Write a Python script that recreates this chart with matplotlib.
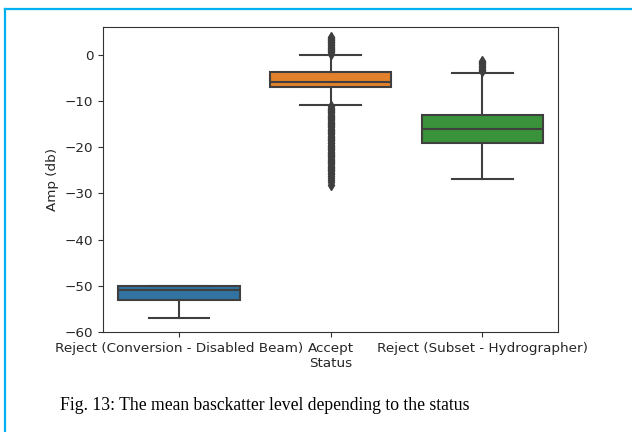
import matplotlib
matplotlib.use('Agg')
from matplotlib import pyplot as plt
from matplotlib.lines import Line2D

# box statistics (Amp in db)
categories = ['Reject (Conversion - Disabled Beam)', 'Accept', 'Reject (Subset - Hydrographer)']
q1 = [-53.0, -7.0, -19.2]
med = [-50.9, -5.9, -16.0]
q3 = [-50.0, -3.8, -13.0]
whislo = [-57.0, -10.9, -27.0]
whishi = [-50.0, 0.0, -3.9]
fliers_conv = []
fliers_accept = [0.2, 0.5, 0.7, 1.0, 1.2, 1.5, 1.7, 2.0, 2.2, 2.5, 2.7, 3.0, 3.2,
                 3.5, 3.7, 3.9,
                 -11.2, -11.5, -11.7, -12.0, -12.2, -12.5, -12.7, -13.0, -13.2,
                 -13.5, -13.7, -14.0, -14.2, -14.5, -14.7, -15.0, -15.2, -15.5,
                 -15.7, -16.0, -16.2, -16.5, -16.7, -17.0, -17.2, -17.5, -17.7,
                 -18.0, -18.2, -18.5, -18.7, -19.0, -19.2, -19.5, -19.7, -20.0,
                 -20.2, -20.5, -20.7, -21.0, -21.2, -21.5, -21.7, -22.0, -22.2,
                 -22.5, -22.7, -23.0, -23.2, -23.5, -23.7, -24.0, -24.2, -24.5,
                 -24.7, -25.0, -25.2, -25.5, -25.8, -26.2, -26.6, -27.1, -27.6,
                 -28.2]
fliers_hydro = [-3.6, -3.3, -3.0, -2.7, -2.4, -2.1, -1.8, -1.5, -1.3]
colors = ['#3274a1', '#e1812c', '#3a923a']

stats = []
for i, fl in enumerate([fliers_conv, fliers_accept, fliers_hydro]):
    stats.append({'label': categories[i], 'q1': q1[i], 'med': med[i], 'q3': q3[i],
                  'whislo': whislo[i], 'whishi': whishi[i], 'fliers': fl})

gray = '#3f3f3f'
fig = plt.figure(figsize=(6.32, 4.32), dpi=100)
ax = fig.add_axes([0.163, 0.2315, 0.72, 0.706])
bp = ax.bxp(stats, positions=[0, 1, 2], widths=0.8, patch_artist=True,
            boxprops=dict(edgecolor=gray, linewidth=1.5),
            whiskerprops=dict(color=gray, linewidth=1.5),
            capprops=dict(color=gray, linewidth=1.5),
            medianprops=dict(color=gray, linewidth=1.5),
            flierprops=dict(marker='d', markerfacecolor=gray, markeredgecolor=gray,
                            markersize=5))
for patch, c in zip(bp['boxes'], colors):
    patch.set_facecolor(c)

ax.set_xlim(-0.5, 2.5)
ax.set_ylim(-60, 6)
ax.set_xticks([0, 1, 2])
ax.set_xticklabels(categories)
ax.set_yticks([0, -10, -20, -30, -40, -50, -60])
ftSize = 9.7
ax.tick_params(labelsize=ftSize, colors='#333333', labelcolor='#262626')
for s in ax.spines.values():
    s.set_color('#333333')
ax.set_xlabel('Status', fontsize=ftSize, color='#262626', labelpad=2)
ax.set_ylabel('Amp (db)', fontsize=ftSize, color='#262626')

# caption and frame of the page
fig.text(0.419, 0.062, 'Fig. 13: The mean basckatter level depending to the status',
         ha='center', va='center', family='Liberation Serif', fontsize=12.7)
fig.add_artist(Line2D([0.0087, 1.0], [0.979, 0.979], transform=fig.transFigure,
                      color='#00b0f0', linewidth=1.6))
fig.add_artist(Line2D([0.0087, 0.0087], [0.0, 0.979], transform=fig.transFigure,
                      color='#00b0f0', linewidth=1.6))

plt.savefig('out.png', dpi=100)
